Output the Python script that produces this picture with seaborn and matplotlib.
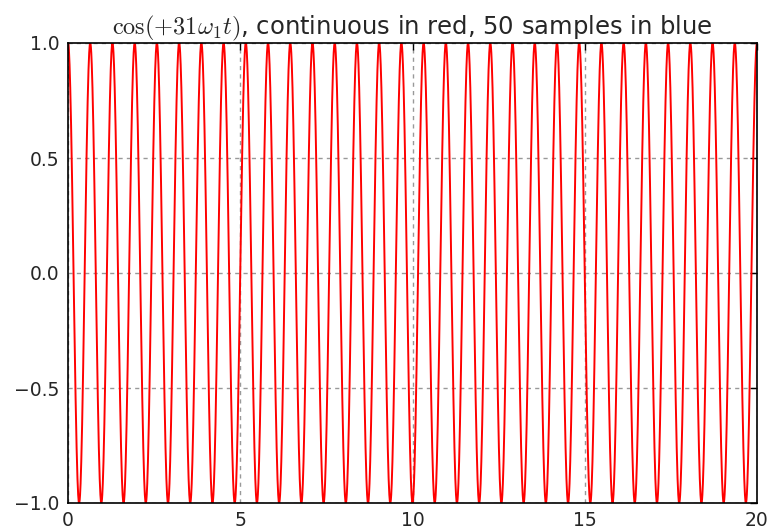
import numpy as np
import pandas as pd
import matplotlib
matplotlib.use("Agg")
import matplotlib.pyplot as plt
import seaborn as sns

# chart parameters
harmonic = 31          # number of cycles over the window
duration = 20.0        # seconds shown on the x axis
n_dense = 4000         # density of the "continuous" curve
x_ticks = [0, 5, 10, 15, 20]
y_ticks = [-1.0, -0.5, 0.0, 0.5, 1.0]
title = r"$\cos(+31\omega_1 t)$, continuous in red, 50 samples in blue"

t = np.linspace(0, duration, n_dense)
w1 = 2 * np.pi / duration
y = np.cos(harmonic * w1 * t)
df = pd.DataFrame({"t": t, "y": y})

sns.set_style("white")
plt.rcParams["font.family"] = ["DejaVu Sans"]
plt.rcParams["mathtext.fontset"] = "cm"

fig = plt.figure(figsize=(7.67, 5.29), dpi=100)
ax = fig.add_axes([68 / 767, 1 - 503 / 529, (757 - 68) / 767, (503 - 43) / 529])

sns.lineplot(data=df, x="t", y="y", color="red", linewidth=1.4, ax=ax,
             estimator=None, sort=False)

ax.set_xlim(0, duration)
ax.set_ylim(-1, 1)
ax.set_xticks(x_ticks)
ax.set_yticks(y_ticks)
ax.set_xticklabels([str(v) for v in x_ticks])
ax.set_yticklabels([f"{v:.1f}".replace("-", "\u2212") for v in y_ticks])
ax.set_xlabel("")
ax.set_ylabel("")
ax.grid(True, color="#999999", linestyle=(0, (3, 3)), linewidth=1.0)
ax.tick_params(direction="in", length=5, width=1, top=True, right=True,
               labelsize=13.5, colors="#262626", pad=6)
ax.tick_params(axis="both", color="black")
for s in ax.spines.values():
    s.set_color("black")
    s.set_linewidth(1.2)
ax.set_title(title, fontsize=17.5, pad=6, color="#262626")

fig.savefig("out.png", dpi=100)
